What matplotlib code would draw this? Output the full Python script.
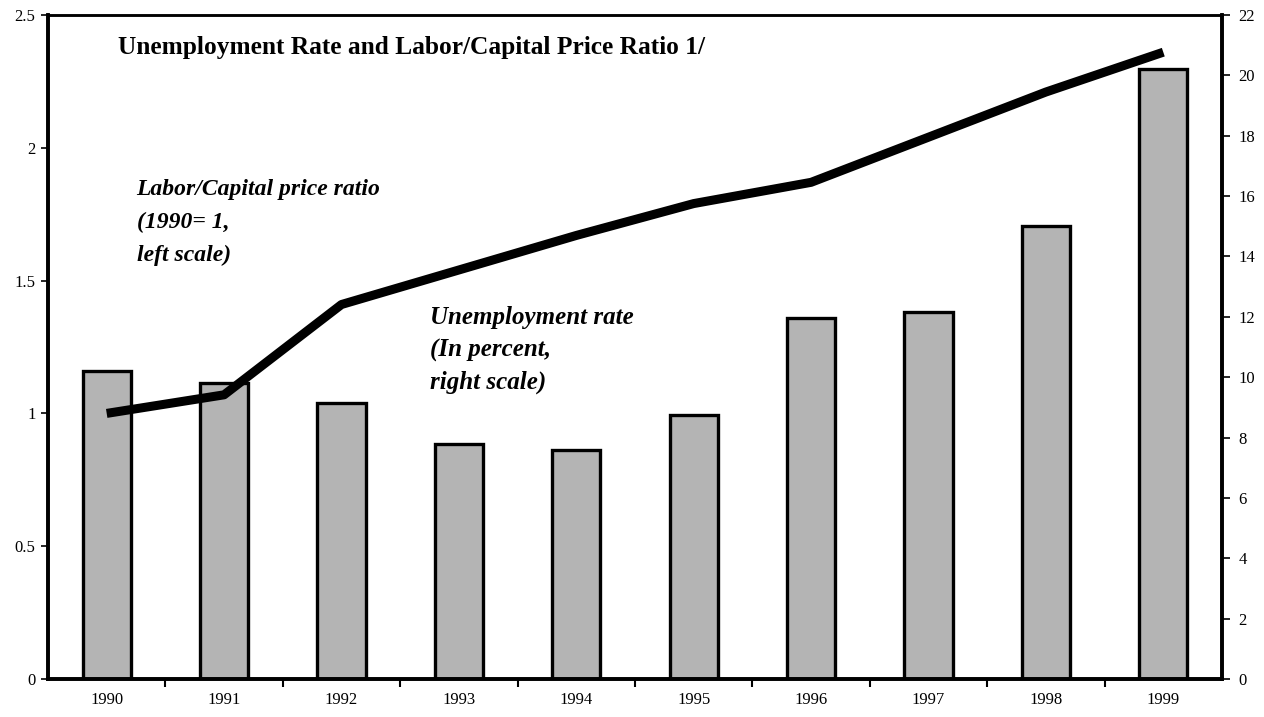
import matplotlib
matplotlib.use("Agg")
import matplotlib.pyplot as plt
import numpy as np

years = ["1990", "1991", "1992", "1993", "1994", "1995", "1996", "1997", "1998", "1999"]
unemployment = [10.2, 9.8, 9.15, 7.8, 7.6, 8.75, 11.95, 12.15, 15.0, 20.2]
price_ratio = [1.0, 1.07, 1.41, 1.54, 1.67, 1.79, 1.87, 2.04, 2.21, 2.36]
left_ticks = [0, 0.5, 1, 1.5, 2, 2.5]
left_labels = ["0", "0.5", "1", "1.5", "2", "2.5"]
right_ticks = list(range(0, 23, 2))

plt.rcParams['font.family'] = ['Liberation Serif', 'DejaVu Serif']

fig = plt.figure(figsize=(12.64, 7.17), dpi=100)
ax = fig.add_axes([48/1264, 1 - 679/717, 1174/1264, 664/717])
ax2 = ax.twinx()

x = np.arange(len(years))
ax2.bar(x, unemployment, width=0.41, color='#b4b4b4', edgecolor='black', linewidth=2.4, zorder=2)
ax2.set_ylim(0, 22)
ax2.set_yticks(right_ticks)
ax2.set_yticklabels([str(t) for t in right_ticks], fontsize=12)

ax.plot(x, price_ratio, color='black', linewidth=6.5, solid_capstyle='butt', zorder=5)
ax.set_ylim(0, 2.5)
ax.set_yticks(left_ticks)
ax.set_yticklabels(left_labels, fontsize=12)
ax.set_xlim(-0.5, len(years) - 0.5)
ax.set_zorder(ax2.get_zorder() + 1)
ax.patch.set_visible(False)

ax.set_xticks(np.arange(0.5, len(years) - 0.5, 1.0))
ax.set_xticklabels([])
ax.set_xticks(x, minor=True)
ax.set_xticklabels(years, minor=True, fontsize=12)
ax.tick_params(axis='x', which='major', direction='out', length=6, width=1.5)
ax.tick_params(axis='x', which='minor', length=0, pad=9)
ax.tick_params(axis='y', direction='out', length=5, width=1.2, pad=4)
ax2.tick_params(axis='y', direction='out', length=6, width=1.2, pad=6)

for a in (ax, ax2):
    for s in ('left', 'right', 'bottom'):
        a.spines[s].set_linewidth(2.6)
    a.spines['top'].set_linewidth(1.8)

ax.text(0.0596, 0.968, "Unemployment Rate and Labor/Capital Price Ratio 1/",
        transform=ax.transAxes, ha='left', va='top', fontsize=18.3, fontweight='bold')
ax.text(0.0755, 0.753, "Labor/Capital price ratio\n(1990= 1,\nleft scale)",
        transform=ax.transAxes, ha='left', va='top', fontsize=17, style='italic',
        fontweight='bold', linespacing=1.72)
ax.text(0.325, 0.561, "Unemployment rate\n(In percent,\nright scale)",
        transform=ax.transAxes, ha='left', va='top', fontsize=18, style='italic',
        fontweight='bold', linespacing=1.5)

fig.savefig("out.png", dpi=100)
